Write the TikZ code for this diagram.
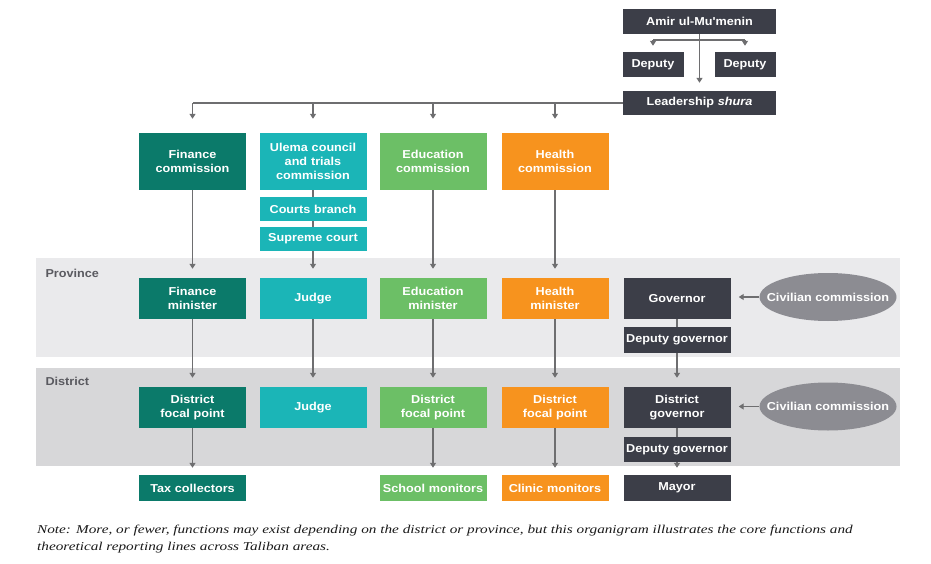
\documentclass[tikz,border=0pt]{standalone}
\usepackage{fontspec}
\setmainfont{Liberation Sans}
\newfontfamily\boxfont[FakeStretch=1.1]{Liberation Sans}
\newfontfamily\notefont[FakeStretch=1.27]{Liberation Serif}
\usetikzlibrary{arrows.meta,shapes.geometric}
\definecolor{cdark}{HTML}{3C3E48}
\definecolor{cfin}{HTML}{0B7A6A}
\definecolor{cule}{HTML}{1BB5B7}
\definecolor{cedu}{HTML}{6CBF66}
\definecolor{chea}{HTML}{F7931E}
\definecolor{cell}{HTML}{8C8C92}
\definecolor{bandA}{HTML}{EAEAEC}
\definecolor{bandB}{HTML}{D7D7D9}
\definecolor{cline}{HTML}{6E6E70}
\definecolor{clabel}{HTML}{5A5A60}
\begin{document}
\begin{tikzpicture}[x=1pt,y=-1pt,
  box/.style={rectangle, inner sep=0pt, text=white, align=center, text width=106pt,
    minimum width=107pt, font=\fontsize{11.5}{14}\boxfont\bfseries},
  wbox/.style={box, minimum width=153pt, text width=150pt},
  sbox/.style={box, minimum width=61pt, text width=58pt},
  hc/.style={minimum height=57pt},
  hr/.style={minimum height=41pt},
  hs/.style={minimum height=25pt},
  civ/.style={ellipse, fill=cell, minimum width=137pt, minimum height=48pt, inner sep=0pt},
  civtext/.style={text=white, inner sep=0pt, font=\fontsize{11.5}{14}\boxfont\bfseries},
  line/.style={draw=cline, line width=1.3pt},
  arr/.style={line, -{Triangle[length=5pt,width=6pt]}},
  lab/.style={anchor=west, text=clabel, font=\fontsize{11.5}{14}\boxfont\bfseries}]
\useasboundingbox (0,0) rectangle (931,564);
% bands
\fill[bandA] (36,258) rectangle (900,357);
\fill[bandB] (36,368) rectangle (900,466);
\node[lab] (lprov) at (42,273) {Province};
\node[lab] (ldist) at (42,381) {District};
% top
\node[wbox, hs, fill=cdark] (amir) at (699.5,21.5) {Amir ul-Mu'menin};
\node[sbox, hs, fill=cdark] (depL) at (653,64.5) {Deputy};
\node[sbox, hs, fill=cdark] (depR) at (745,64.5) {Deputy};
\node[wbox, hs, fill=cdark, minimum height=24pt] (shura) at (699.5,103) {Leadership \textit{shura}};
% commissions
\node[box, hc, fill=cfin] (fin1) at (192.5,161.5) {Finance\\commission};
\node[box, hc, fill=cule] (ule1) at (313,161.5) {Ulema council\\and trials\\commission};
\node[box, hs, fill=cule, minimum height=24pt] (courts) at (313,209) {Courts branch};
\node[box, hs, fill=cule, minimum height=24pt] (supreme) at (313,239) {Supreme court};
\node[box, hc, fill=cedu] (edu1) at (433,161.5) {Education\\commission};
\node[box, hc, fill=chea] (hea1) at (555,161.5) {Health\\commission};
% province
\node[box, hr, fill=cfin] (fin2) at (192.5,298.5) {Finance\\minister};
\node[box, hr, fill=cule] (ule2) at (313,298.5) {Judge};
\node[box, hr, fill=cedu] (edu2) at (433,298.5) {Education\\minister};
\node[box, hr, fill=chea] (hea2) at (555,298.5) {Health\\minister};
\node[box, hr, fill=cdark] (gov2) at (677,298.5) {Governor};
\node[box, fill=cdark, minimum height=26pt] (dg2) at (677,340) {Deputy governor};
\node[civ] (civ2) at (828,297) {};
\node[civtext] (civ2t) at (civ2) {Civilian commission};
% district
\node[box, hr, fill=cfin] (fin3) at (192.5,407.5) {District\\focal point};
\node[box, hr, fill=cule] (ule3) at (313,407.5) {Judge};
\node[box, hr, fill=cedu] (edu3) at (433,407.5) {District\\focal point};
\node[box, hr, fill=chea] (hea3) at (555,407.5) {District\\focal point};
\node[box, hr, fill=cdark] (gov3) at (677,407.5) {District\\governor};
\node[box, hs, fill=cdark] (dg3) at (677,449.5) {Deputy governor};
\node[civ] (civ3) at (828,406.5) {};
\node[civtext] (civ3t) at (civ3) {Civilian commission};
% bottom
\node[box, fill=cfin, minimum height=26pt] (fin4) at (192.5,488) {Tax collectors};
\node[box, fill=cedu, minimum height=26pt] (edu4) at (433,488) {School monitors};
\node[box, fill=chea, minimum height=26pt] (hea4) at (555,488) {Clinic monitors};
\node[box, fill=cdark, minimum height=26pt] (gov4) at (677,488) {Mayor};
% top connectors
\coordinate (dl) at (653,40);
\coordinate (dr) at (745,40);
\draw[line] (dl) -- (dr);
\draw[arr, shorten >=6pt] (dl) -- (depL);
\draw[arr, shorten >=6pt] (dr) -- (depR);
\draw[arr, shorten >=8pt] (amir) -- (shura);
\coordinate (t1) at (shura.west -| fin1);
\draw[line] (shura.west) -- (t1);
\draw[arr, shorten >=14pt] (t1) -- (fin1);
\draw[arr, shorten >=14pt] (shura.west -| ule1) -- (ule1);
\draw[arr, shorten >=14pt] (shura.west -| edu1) -- (edu1);
\draw[arr, shorten >=14pt] (shura.west -| hea1) -- (hea1);
% columns
\draw[arr, shorten >=9pt] (fin1) -- (fin2);
\draw[arr, shorten >=9pt] (fin2) -- (fin3);
\draw[arr, shorten >=7pt] (fin3) -- (fin4);
\draw[line] (ule1) -- (courts);
\draw[line] (courts) -- (supreme);
\draw[arr, shorten >=9pt] (supreme) -- (ule2);
\draw[arr, shorten >=9pt] (ule2) -- (ule3);
\draw[arr, shorten >=9pt] (edu1) -- (edu2);
\draw[arr, shorten >=9pt] (edu2) -- (edu3);
\draw[arr, shorten >=7pt] (edu3) -- (edu4);
\draw[arr, shorten >=9pt] (hea1) -- (hea2);
\draw[arr, shorten >=9pt] (hea2) -- (hea3);
\draw[arr, shorten >=7pt] (hea3) -- (hea4);
\draw[line] (gov2) -- (dg2);
\draw[arr, shorten >=9pt] (dg2) -- (gov3);
\draw[line] (gov3) -- (dg3);
\draw[arr, shorten >=7pt] (dg3) -- (gov4);
\draw[arr, shorten >=8pt] (civ2.west) -- (civ2.west -| gov2.east);
\draw[arr, shorten >=8pt] (civ3.west) -- (civ3.west -| gov3.east);
% note
\node[anchor=north west, align=left, inner sep=0pt, text=black!90,
  font=\fontsize{12}{17}\notefont\itshape] (note) at (37,525)
  {Note: More, or fewer, functions may exist depending on the district or province, but this organigram illustrates the core functions and\\
   theoretical reporting lines across Taliban areas.};
\end{tikzpicture}
\end{document}
